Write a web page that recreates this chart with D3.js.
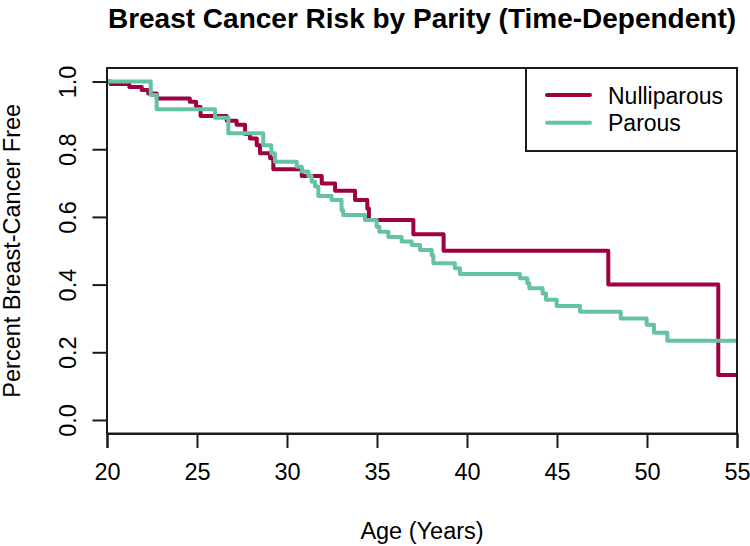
<!DOCTYPE html>
<html>
<head>
<meta charset="utf-8">
<script src="https://cdn.jsdelivr.net/npm/d3@7"></script>
<style>
  html, body { margin: 0; padding: 0; background: #fff; }
  svg { display: block; font-family: "Liberation Sans", Arial, Helvetica, sans-serif; }
</style>
</head>
<body>
<svg id="chart" width="750" height="546"></svg>
<script>
// ---- Data ----
const title = "Breast Cancer Risk by Parity (Time-Dependent)";
const xLabel = "Age (Years)";
const yLabel = "Percent Breast-Cancer Free";
const seriesNames = ["Nulliparous", "Parous"];
const seriesColors = ["#9E0142", "#66C2A5"];

const xTicks = [20, 25, 30, 35, 40, 45, 50, 55];
const yTicks = [0.0, 0.2, 0.4, 0.6, 0.8, 1.0];
const xDomain = [20, 55];

const nulliAges = [20, 20.2, 21.24, 21.93, 22.29, 22.76, 24.6, 24.95, 25.2, 26.65, 27.2, 27.67, 27.94, 28.32, 28.5, 29.06, 29.24, 30.82, 31.93, 32.67, 33.78, 34.46, 34.55, 37.02, 38.7, 47.85, 53.96];
const nulliSurv = [1.0, 0.993, 0.984, 0.975, 0.965, 0.950, 0.940, 0.925, 0.898, 0.884, 0.872, 0.845, 0.832, 0.812, 0.788, 0.773, 0.741, 0.721, 0.699, 0.677, 0.650, 0.625, 0.591, 0.549, 0.500, 0.400, 0.133];

const parAges = [20, 22.43, 22.76, 26.0, 26.74, 28.68, 29.13, 29.33, 30.54, 30.82, 31.19, 31.37, 31.56, 31.74, 32.48, 33.03, 33.12, 34.33, 34.98, 35.13, 35.63, 36.37, 36.93, 37.39, 38.04, 38.13, 39.33, 39.61, 42.94, 43.35, 43.46, 44.2, 44.39, 44.98, 46.28, 48.54, 49.98, 50.39, 51.13];
const parSurv = [1.0, 0.960, 0.918, 0.893, 0.847, 0.812, 0.788, 0.763, 0.748, 0.734, 0.721, 0.704, 0.690, 0.662, 0.650, 0.620, 0.606, 0.591, 0.571, 0.556, 0.541, 0.527, 0.517, 0.502, 0.487, 0.463, 0.448, 0.431, 0.419, 0.404, 0.389, 0.374, 0.355, 0.337, 0.320, 0.300, 0.281, 0.258, 0.234];

(function () {
  const svg = d3.select("#chart");
  const pL = 107, pR = 737, pT = 68, pB = 433.5;
  const yPad = 0.04;
  const fs = 23.5;

  const x = d3.scaleLinear().domain(xDomain).range([pL, pR]);
  const y = d3.scaleLinear().domain([0 - yPad, 1 + yPad]).range([pB, pT]);

  const ink = "#1a1a1a";

  // Title
  svg.append("text")
    .attr("x", (pL + pR) / 2).attr("y", 28)
    .attr("text-anchor", "middle")
    .attr("font-weight", "bold")
    .attr("font-size", 28)
    .attr("fill", "#000")
    .text(title);

  // Curves
  function toPts(ages, surv) {
    const pts = ages.map((a, i) => [a, surv[i]]);
    pts.push([xDomain[1], surv[surv.length - 1]]);
    return pts;
  }
  const line = d3.line().x(d => x(d[0])).y(d => y(d[1])).curve(d3.curveStepAfter);
  svg.append("clipPath").attr("id", "plotclip")
    .append("rect").attr("x", pL).attr("y", pT).attr("width", pR - pL).attr("height", pB - pT);

  const series = [toPts(nulliAges, nulliSurv), toPts(parAges, parSurv)];
  const g = svg.append("g").attr("clip-path", "url(#plotclip)");
  [0, 1].forEach(i => {
    g.append("path")
      .attr("d", line(series[i]))
      .attr("fill", "none")
      .attr("stroke", seriesColors[i])
      .attr("stroke-width", 4)
      .attr("stroke-linejoin", "round")
      .attr("stroke-linecap", "butt");
  });

  // Box
  svg.append("rect")
    .attr("x", pL).attr("y", pT)
    .attr("width", pR - pL).attr("height", pB - pT)
    .attr("fill", "none").attr("stroke", ink).attr("stroke-width", 2);

  // X axis
  const xAxis = d3.axisBottom(x).tickValues(xTicks).tickSize(14.5).tickPadding(15).tickFormat(d3.format("d"));
  const gx = svg.append("g").attr("transform", `translate(0,${pB})`).call(xAxis);
  gx.select(".domain").attr("stroke", ink).attr("stroke-width", 2);
  gx.selectAll(".tick line").attr("stroke", ink).attr("stroke-width", 2);
  gx.selectAll(".tick text").attr("font-size", fs).attr("fill", "#000")
    .attr("font-family", "'Liberation Sans', Arial, sans-serif");

  // Y axis
  const yAxis = d3.axisLeft(y).tickValues(yTicks).tickSize(14.5).tickFormat(d3.format(".1f"));
  const gy = svg.append("g").attr("transform", `translate(${pL},0)`).call(yAxis);
  gy.select(".domain").remove();
  gy.selectAll(".tick line").attr("stroke", ink).attr("stroke-width", 2);
  gy.selectAll(".tick text")
    .attr("font-size", fs).attr("fill", "#000")
    .attr("font-family", "'Liberation Sans', Arial, sans-serif")
    .attr("x", null).attr("dy", null)
    .attr("text-anchor", "middle")
    .attr("transform", `translate(${-31},0) rotate(-90)`);

  // Axis titles
  svg.append("text")
    .attr("x", (pL + pR) / 2).attr("y", 539)
    .attr("text-anchor", "middle").attr("font-size", fs).attr("fill", "#000")
    .text(xLabel);
  svg.append("text")
    .attr("transform", `translate(20,${(pT + pB) / 2}) rotate(-90)`)
    .attr("text-anchor", "middle").attr("font-size", fs).attr("fill", "#000")
    .text(yLabel);

  // Legend
  const lgX = 526, lgY = pT, lgW = pR - 526, lgH = 83;
  svg.append("rect").attr("x", lgX).attr("y", lgY).attr("width", lgW).attr("height", lgH)
    .attr("fill", "#fff").attr("stroke", ink).attr("stroke-width", 2);
  seriesNames.forEach((name, i) => {
    const yy = 95 + i * 27.7;
    svg.append("line").attr("x1", 547).attr("x2", 590).attr("y1", yy).attr("y2", yy)
      .attr("stroke", seriesColors[i]).attr("stroke-width", 4).attr("stroke-linecap", "round");
    svg.append("text").attr("x", 608).attr("y", yy + 8.5)
      .attr("font-size", 23).attr("fill", "#000").text(name);
  });
})();
</script>
</body>
</html>
